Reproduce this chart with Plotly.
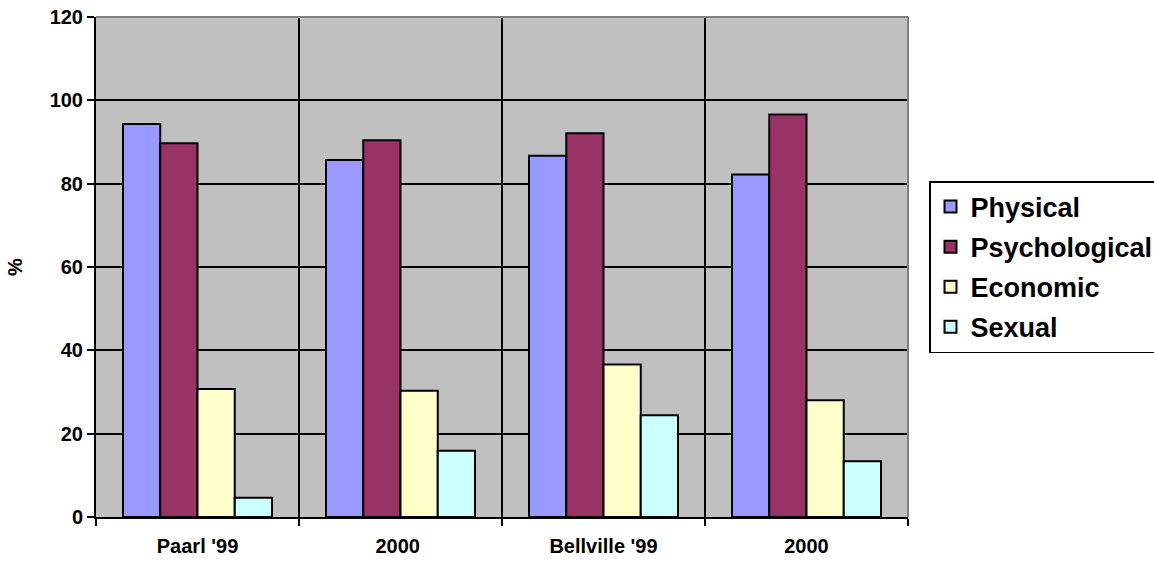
import plotly.graph_objects as go

# Survey groups and share of respondents (%) reporting each form of abuse
categories = ["Paarl '99", "2000 ", "Bellville '99", "2000"]
physical = [94.3, 85.7, 86.7, 82.2]
psychological = [89.7, 90.4, 92.1, 96.6]
economic = [30.7, 30.3, 36.6, 28.0]
sexual = [4.6, 15.9, 24.4, 13.4]

series = [
    ("Physical", physical, "#9999FF"),
    ("Psychological", psychological, "#993366"),
    ("Economic", economic, "#FFFFCC"),
    ("Sexual", sexual, "#CCFFFF"),
]

fig = go.Figure()
for name, values, color in series:
    fig.add_trace(go.Bar(
        x=categories, y=values, name=name, legendgroup=name,
        marker=dict(color=color, line=dict(color="black", width=2)),
    ))

font_family = "Liberation Sans, Arial, sans-serif"

fig.update_layout(
    width=1154, height=561,
    margin=dict(l=96, r=246, t=17, b=44, autoexpand=False),
    paper_bgcolor="white",
    plot_bgcolor="#C0C0C0",
    barmode="group",
    bargap=0.266,
    bargroupgap=0,
    font=dict(family=font_family, size=20, color="black"),
    legend=dict(
        xref="container", yref="container",
        x=929 / 1154, xanchor="left", y=1 - 181 / 561, yanchor="top",
        bordercolor="black", borderwidth=1.5, bgcolor="white",
        font=dict(family=font_family, size=27, color="black", weight="bold"),
        traceorder="grouped",
        tracegroupgap=2,
    ),
    showlegend=True,
)

fig.update_xaxes(
    type="category",
    tickson="boundaries",
    showgrid=True, gridcolor="black", gridwidth=1.5,
    showline=True, linecolor="black", linewidth=2,
    ticks="outside", ticklen=7, tickwidth=2, tickcolor="black",
    tickfont=dict(family=font_family, size=20, color="black", weight="bold"),
    ticklabelstandoff=10,
    automargin=False,
)

fig.update_yaxes(
    range=[0, 120], dtick=20,
    showgrid=True, gridcolor="black", gridwidth=1.5,
    zeroline=False,
    showline=True, linecolor="black", linewidth=2,
    ticks="outside", ticklen=7, tickwidth=2, tickcolor="black",
    tickfont=dict(family=font_family, size=20, color="black", weight="bold"),
    title=dict(text="%", standoff=22,
               font=dict(family=font_family, size=20, color="black", weight="bold")),
    automargin=False,
)

# Grey frame along the top and right edges of the plot area
fig.add_shape(type="line", xref="x domain", yref="y domain",
              x0=0, x1=1, y0=1, y1=1, line=dict(color="#808080", width=2))
fig.add_shape(type="line", xref="x domain", yref="y domain",
              x0=1, x1=1, y0=0, y1=1, line=dict(color="#808080", width=2))

fig.write_html("out.html")
